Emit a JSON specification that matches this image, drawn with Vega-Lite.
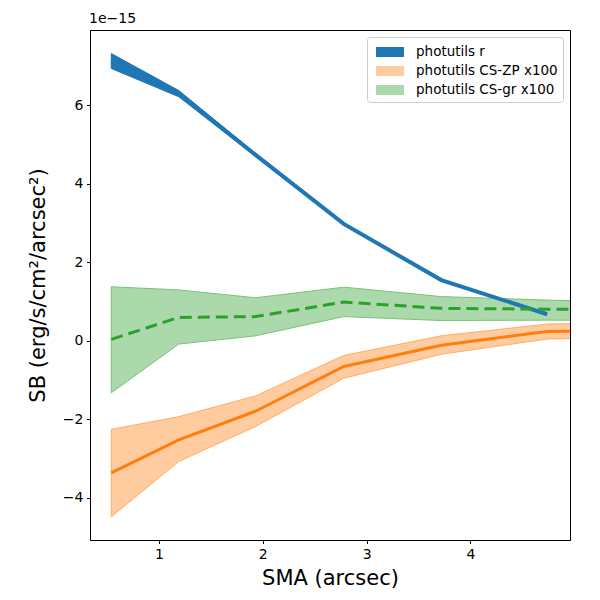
{
  "$schema": "https://vega.github.io/schema/vega-lite/v6.json",
  "width": 480,
  "height": 510,
  "autosize": {"type": "none"},
  "padding": {"left": 90, "top": 30, "right": 30, "bottom": 60},
  "background": "white",
  "title": {"text": "1e\u221215", "anchor": "start", "frame": "group", "fontSize": 14, "fontWeight": "normal", "font": "DejaVu Sans", "color": "black", "offset": 4, "dx": -1},
  "data": {
    "values": [
      {"sma": 0.54, "series": "photutils r", "y": 7.13, "lo": 6.94, "hi": 7.32},
      {"sma": 1.19, "series": "photutils r", "y": 6.30, "lo": 6.22, "hi": 6.38},
      {"sma": 1.93, "series": "photutils r", "y": 4.74, "lo": 4.70, "hi": 4.78},
      {"sma": 2.78, "series": "photutils r", "y": 2.98, "lo": 2.95, "hi": 3.01},
      {"sma": 3.72, "series": "photutils r", "y": 1.55, "lo": 1.53, "hi": 1.57},
      {"sma": 4.74, "series": "photutils r", "y": 0.68, "lo": 0.66, "hi": 0.70},
      {"sma": 0.54, "series": "photutils CS-ZP x100", "y": -3.36, "lo": -4.48, "hi": -2.25},
      {"sma": 1.19, "series": "photutils CS-ZP x100", "y": -2.52, "lo": -3.07, "hi": -1.93},
      {"sma": 1.93, "series": "photutils CS-ZP x100", "y": -1.79, "lo": -2.18, "hi": -1.40},
      {"sma": 2.78, "series": "photutils CS-ZP x100", "y": -0.65, "lo": -0.95, "hi": -0.37},
      {"sma": 3.72, "series": "photutils CS-ZP x100", "y": -0.11, "lo": -0.34, "hi": 0.13},
      {"sma": 4.74, "series": "photutils CS-ZP x100", "y": 0.24, "lo": 0.05, "hi": 0.43},
      {"sma": 5.8, "series": "photutils CS-ZP x100", "y": 0.28, "lo": 0.09, "hi": 0.48},
      {"sma": 0.54, "series": "photutils CS-gr x100", "y": 0.04, "lo": -1.32, "hi": 1.38},
      {"sma": 1.19, "series": "photutils CS-gr x100", "y": 0.60, "lo": -0.08, "hi": 1.30},
      {"sma": 1.93, "series": "photutils CS-gr x100", "y": 0.62, "lo": 0.13, "hi": 1.10},
      {"sma": 2.78, "series": "photutils CS-gr x100", "y": 0.99, "lo": 0.62, "hi": 1.37},
      {"sma": 3.72, "series": "photutils CS-gr x100", "y": 0.83, "lo": 0.52, "hi": 1.13},
      {"sma": 4.74, "series": "photutils CS-gr x100", "y": 0.81, "lo": 0.53, "hi": 1.04},
      {"sma": 5.8, "series": "photutils CS-gr x100", "y": 0.79, "lo": 0.52, "hi": 0.98}
    ]
  },
  "encoding": {
    "x": {
      "field": "sma",
      "type": "quantitative",
      "title": "SMA (arcsec)",
      "scale": {"domain": [0.335, 4.96], "nice": false, "zero": false},
      "axis": {"values": [1, 2, 3, 4], "format": "d", "grid": false, "titlePadding": 6}
    }
  },
  "layer": [
    {
      "mark": {"type": "area", "clip": true, "strokeWidth": 1, "opacity": 1},
      "encoding": {
        "y": {
          "field": "lo",
          "type": "quantitative",
          "title": "SB (erg/s/cm\u00b2/arcsec\u00b2)",
          "scale": {"domain": [-5.07, 7.92], "nice": false, "zero": false},
          "axis": {"values": [-4, -2, 0, 2, 4, 6], "format": "d", "grid": false, "titlePadding": 14}
        },
        "y2": {"field": "hi"},
        "fill": {
          "field": "series",
          "type": "nominal",
          "scale": {
            "domain": ["photutils r", "photutils CS-ZP x100", "photutils CS-gr x100"],
            "range": ["#1f77b4", "#ffcb9f", "#abd9ab"]
          },
          "legend": {"title": null}
        },
        "stroke": {
          "field": "series",
          "type": "nominal",
          "scale": {
            "domain": ["photutils r", "photutils CS-ZP x100", "photutils CS-gr x100"],
            "range": ["#1f77b4", "#ffad65", "#78c278"]
          },
          "legend": null
        }
      }
    },
    {
      "mark": {"type": "rule", "color": "black", "strokeWidth": 1.5, "strokeDash": [6, 3]},
      "encoding": {"y": {"datum": 0}}
    },
    {
      "transform": [{"filter": "datum.series == 'photutils r'"}],
      "mark": {"type": "line", "clip": true, "color": "#1f77b4", "strokeWidth": 4},
      "encoding": {"y": {"field": "y", "type": "quantitative"}}
    },
    {
      "transform": [{"filter": "datum.series == 'photutils CS-ZP x100'"}],
      "mark": {"type": "line", "clip": true, "color": "#ff7f0e", "strokeWidth": 3},
      "encoding": {"y": {"field": "y", "type": "quantitative"}}
    },
    {
      "transform": [{"filter": "datum.series == 'photutils CS-gr x100'"}],
      "mark": {"type": "line", "clip": true, "color": "#2ca02c", "strokeWidth": 3, "strokeDash": [12, 6]},
      "encoding": {"y": {"field": "y", "type": "quantitative"}}
    }
  ],
  "config": {
    "font": "DejaVu Sans",
    "view": {"stroke": "black", "strokeWidth": 1},
    "axis": {
      "domainColor": "black",
      "tickColor": "black",
      "tickSize": 3.5,
      "labelPadding": 3.5,
      "labelColor": "black",
      "labelFontSize": 14,
      "labelFont": "DejaVu Sans",
      "titleFont": "DejaVu Sans",
      "titleFontSize": 21,
      "titleFontWeight": "normal",
      "titleColor": "black"
    },
    "legend": {
      "orient": "top-right",
      "offset": 7,
      "fillColor": "white",
      "strokeColor": "#cccccc",
      "cornerRadius": 3,
      "padding": 5,
      "labelFontSize": 13.5,
      "labelFont": "DejaVu Sans",
      "labelColor": "black",
      "symbolType": "M-0.6,-0.5H2.2V0.5H-0.6Z",
      "symbolSize": 400,
      "symbolStrokeWidth": 0,
      "symbolOpacity": 1,
      "labelOffset": 24,
      "rowPadding": 2
    }
  }
}
